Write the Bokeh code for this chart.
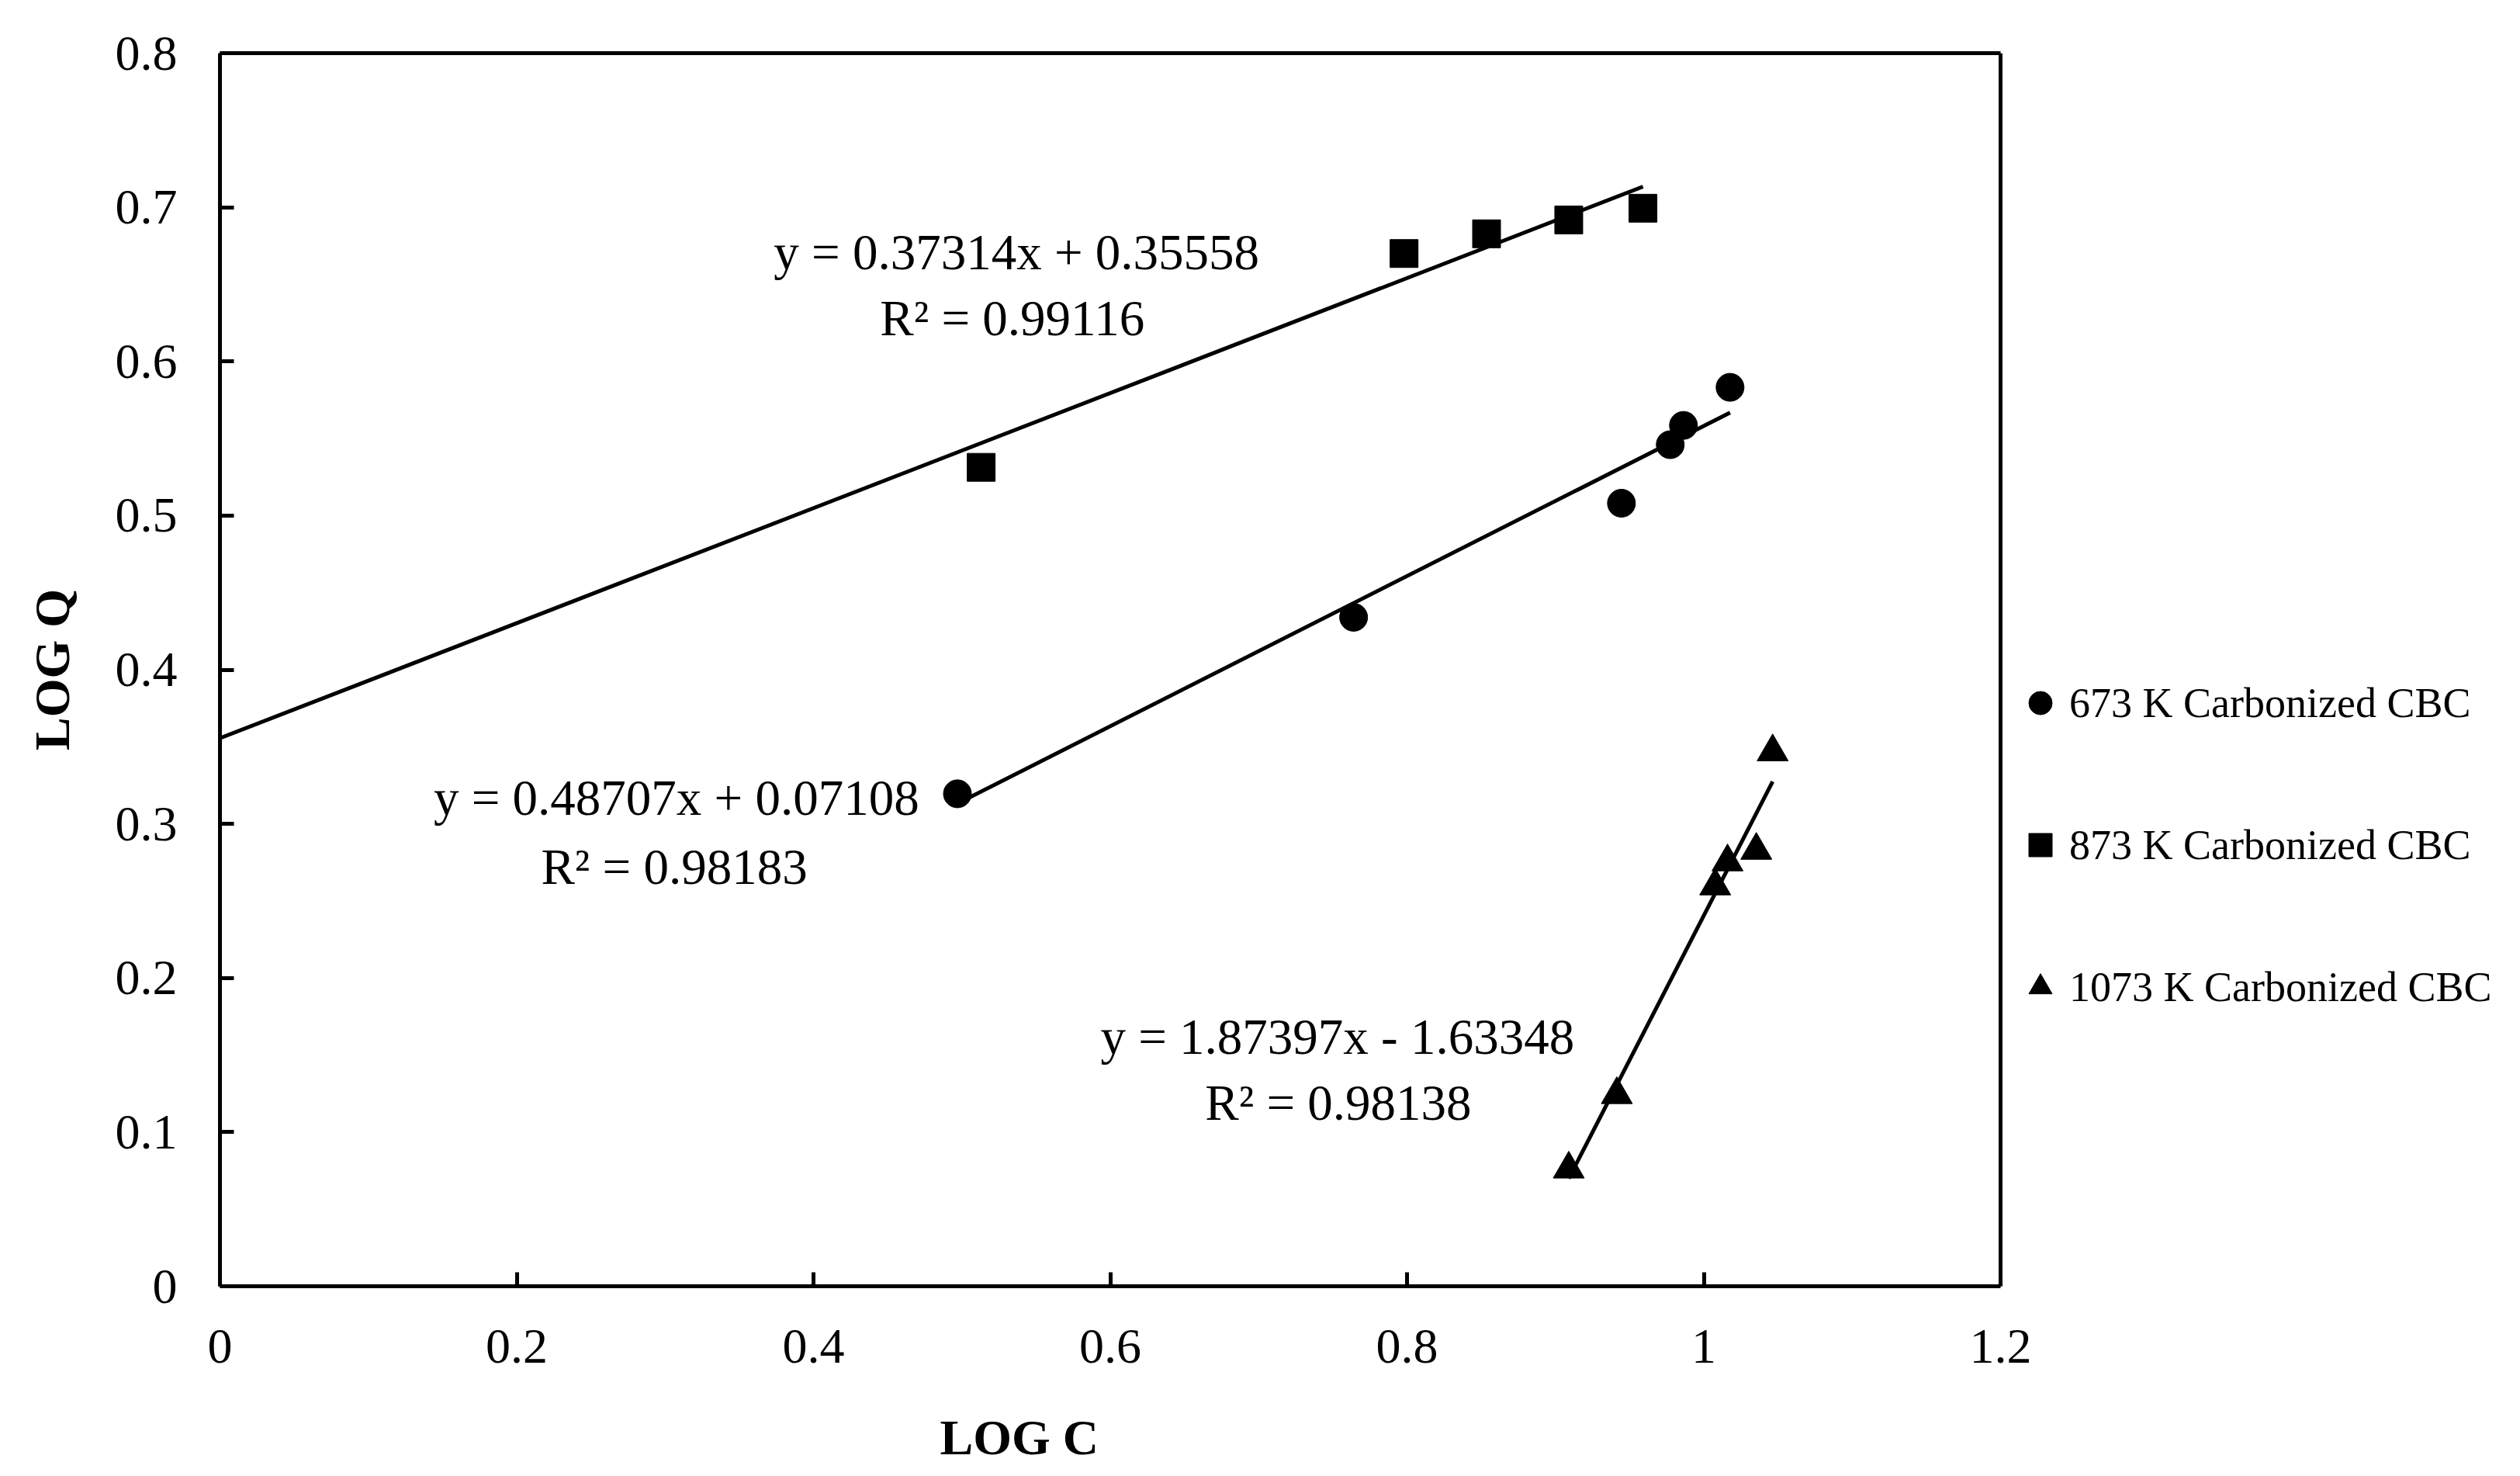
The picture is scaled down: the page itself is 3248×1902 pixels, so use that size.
from bokeh.plotting import figure
from bokeh.models import (Range1d, Label, Legend, LegendItem, FixedTicker, CustomJSTickFormatter,
                          LinearAxis, Span, Title)
from bokeh.embed import file_html
from bokeh.resources import INLINE

# ---- data ----
series_names = ["673 K Carbonized CBC", "873 K Carbonized CBC", "1073 K Carbonized CBC"]
series_markers = ["circle", "square", "triangle"]

x_673 = [0.497, 0.764, 0.9445, 0.9774, 0.9863, 1.0177]
y_673 = [0.3195, 0.434, 0.508, 0.546, 0.5585, 0.5832]

x_873 = [0.513, 0.798, 0.8536, 0.909, 0.959]
y_873 = [0.5313, 0.670, 0.6828, 0.6918, 0.6994]

x_1073 = [0.909, 0.9414, 1.0077, 1.016, 1.0354, 1.0464]
y_1073 = [0.0760, 0.1243, 0.2597, 0.2753, 0.2828, 0.3467]

fit_slope = [0.48707, 0.37314, 1.87397]
fit_intercept = [0.07108, 0.35558, -1.63348]
fit_x_start = [min(x_673), 0.0, min(x_1073)]
fit_x_end = [max(x_673), max(x_873), max(x_1073)]

eq_texts = ["y = 0.48707x + 0.07108", "y = 0.37314x + 0.35558", "y = 1.87397x - 1.63348"]
r2_texts = ["R² = 0.98183", "R² = 0.99116", "R² = 0.98138"]
eq_pos = [(0.3076, 0.317), (0.5368, 0.671), (0.7531, 0.162)]
r2_pos = [(0.3062, 0.272), (0.5340, 0.628), (0.7537, 0.119)]

x_ticks = [0, 0.2, 0.4, 0.6, 0.8, 1.0, 1.2]
y_ticks = [0, 0.1, 0.2, 0.3, 0.4, 0.5, 0.6, 0.7, 0.8]
x_min, x_max = 0.0, 1.2
y_min, y_max = 0.0, 0.8
x_title = "LOG C"
y_title = "LOG Q"

# ---- layout (pixels) ----
FONT = "Liberation Serif"
W, H = 3248, 1902
LEFT, TOP = 283, 68
FRAME_BOTTOM_PX = 1657
BOTTOM = H - FRAME_BOTTOM_PX
AXIS_RIGHT_PX = 2578           # where x = 1.2 sits
FRAME_RIGHT_PAD = 10           # frame extended to hold the legend on the right
frame_w = W - LEFT - FRAME_RIGHT_PAD
axis_w = AXIS_RIGHT_PX - LEFT
x_view_end = x_max * frame_w / axis_w

p = figure(width=W, height=H, x_range=Range1d(x_min, x_view_end), y_range=Range1d(y_min, y_max),
           output_backend="svg", toolbar_location=None, title=None,
           min_border_left=LEFT, min_border_top=TOP, min_border_right=FRAME_RIGHT_PAD,
           min_border_bottom=BOTTOM)
p.background_fill_color = "white"
p.border_fill_color = "white"
p.grid.visible = False
p.outline_line_color = None

fmt = CustomJSTickFormatter(code="return String(Math.round(tick*10)/10);")
for ax, ticks in ((p.xaxis, x_ticks), (p.yaxis, y_ticks)):
    ax.ticker = FixedTicker(ticks=ticks)
    ax.formatter = fmt
    ax.major_tick_in = 18
    ax.major_tick_out = 0
    ax.minor_tick_in = 0
    ax.minor_tick_out = 0
    ax.axis_line_width = 5
    ax.axis_line_color = "black"
    ax.major_tick_line_width = 5
    ax.major_tick_line_color = "black"
    ax.major_label_text_font = FONT
    ax.major_label_text_font_size = "64px"
    ax.major_label_text_color = "black"

p.xaxis.bounds = (x_min, x_max)
p.xaxis.major_label_standoff = 56
p.yaxis.major_label_standoff = 55
p.yaxis.axis_label = y_title
p.yaxis.axis_label_text_font = FONT
p.yaxis.axis_label_text_font_size = "64px"
p.yaxis.axis_label_text_font_style = "bold"
p.yaxis.axis_label_text_color = "black"
p.yaxis.axis_label_standoff = 43

# invisible spacer below the tick labels, then the x title (left of frame centre, as in the reference)
spacer = LinearAxis(ticker=FixedTicker(ticks=[0.6]), axis_line_color=None,
                    formatter=CustomJSTickFormatter(code="return '';"),
                    major_tick_in=0, major_tick_out=70, major_tick_line_color=None,
                    minor_tick_in=0, minor_tick_out=0, minor_tick_line_color=None,
                    major_label_standoff=0, major_label_text_font_size="0px")
p.add_layout(spacer, "below")
xt = Title(text=x_title, align="left", offset=928, standoff=-28, vertical_align="bottom",
           text_font=FONT, text_font_size="64px", text_font_style="bold", text_color="black")
p.add_layout(xt, "below")

# frame box: top edge and right edge at x = 1.2
top_axis = LinearAxis(bounds=(x_min, x_max), ticker=FixedTicker(ticks=[]),
                      axis_line_width=5, axis_line_color="black",
                      major_tick_in=0, major_tick_out=0, minor_tick_in=0, minor_tick_out=0,
                      major_label_standoff=0)
p.add_layout(top_axis, "above")
p.add_layout(Span(location=x_max, dimension="height", line_color="black", line_width=5))

xs = [x_673, x_873, x_1073]
ys = [y_673, y_873, y_1073]
sizes = [36, 36, 40]

renderers = []
for i in range(3):
    r = p.scatter(xs[i], ys[i], marker=series_markers[i], size=sizes[i],
                  fill_color="black", line_color="black")
    renderers.append(r)
    x0, x1 = fit_x_start[i], fit_x_end[i]
    p.line([x0, x1], [fit_slope[i] * x0 + fit_intercept[i], fit_slope[i] * x1 + fit_intercept[i]],
           line_color="black", line_width=5)
    p.add_layout(Label(x=eq_pos[i][0], y=eq_pos[i][1], text=eq_texts[i],
                       text_align="center", text_baseline="middle",
                       text_font=FONT, text_font_size="65px", text_color="black"))
    p.add_layout(Label(x=r2_pos[i][0], y=r2_pos[i][1], text=r2_texts[i],
                       text_align="center", text_baseline="middle",
                       text_font=FONT, text_font_size="65px", text_color="black"))

legend = Legend(items=[LegendItem(label=series_names[i], renderers=[renderers[i]]) for i in range(3)],
                location=(2309, 348), glyph_width=75, glyph_height=75, label_height=75,
                label_standoff=0, spacing=108, padding=0, margin=0,
                border_line_color=None, background_fill_alpha=0,
                label_text_font=FONT, label_text_font_size="54px", label_text_color="black")
p.add_layout(legend)

open("out.html", "w").write(file_html(p, INLINE))
